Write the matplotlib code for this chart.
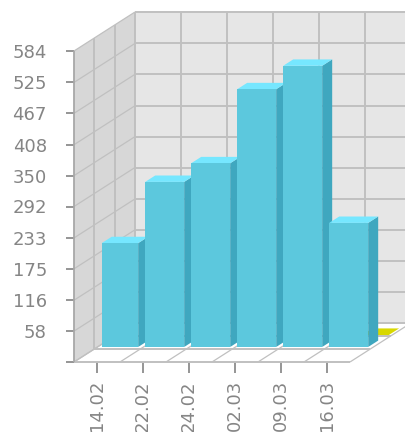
import matplotlib
matplotlib.use("Agg")
import matplotlib.pyplot as plt
from matplotlib.patches import Polygon
from matplotlib.ticker import FixedLocator

plt.rcParams['font.family'] = ['DejaVu Sans']

dates = ['14.02', '22.02', '24.02', '02.03', '09.03', '16.03']
visits = [195, 310, 345, 484, 528, 233]
y_ticks = [58, 116, 175, 233, 292, 350, 408, 467, 525, 584]
y_max = 584
# second row of the chart, sits behind the blue bars
yellow_val = 3

WIDTH, HEIGHT = 405, 432
# front plane of the box in pixels
LEFT, RIGHT, BOTTOM, TOP = 74, 350, 362, 51
# how far the back wall is pushed, in pixels
DEPTH_X, DEPTH_Y = 61, 39

GRID = '#c0c0c0'
TEXT = '#858585'

fig = plt.figure(figsize=(WIDTH / 100, HEIGHT / 100), dpi=100, facecolor='white')
ax = fig.add_axes([LEFT / WIDTH, 1 - BOTTOM / HEIGHT,
                   (RIGHT - LEFT) / WIDTH, (BOTTOM - TOP) / HEIGHT])
ax.set_xlim(0, len(dates))
ax.set_ylim(0, y_max)
ax.patch.set_visible(False)

px_x = len(dates) / (RIGHT - LEFT)
px_y = y_max / (BOTTOM - TOP)


def shift(x, y, depth):
    # depth goes 0 (front edge) to 1 (back wall)
    return x + depth * DEPTH_X * px_x, y + depth * DEPTH_Y * px_y


def poly(points, color, z):
    ax.add_patch(Polygon(points, closed=True, facecolor=color, edgecolor='none',
                         linewidth=0, zorder=z, clip_on=False))


def line(p1, p2, z=2, color=GRID, lw=1.4):
    ax.plot([p1[0], p2[0]], [p1[1], p2[1]], color=color, lw=lw, zorder=z,
            clip_on=False, solid_capstyle='butt')


n = len(dates)

# walls and floor
poly([shift(0, 0, 1), shift(n, 0, 1), shift(n, y_max, 1), shift(0, y_max, 1)], '#e6e6e6', 1)
poly([shift(0, 0, 0), shift(0, 0, 1), shift(0, y_max, 1), shift(0, y_max, 0)], '#d7d7d7', 1)
poly([shift(0, 0, 0), shift(n, 0, 0), shift(n, 0, 1), shift(0, 0, 1)], '#ffffff', 1)

for v in [0] + y_ticks:
    line(shift(0, v, 0), shift(0, v, 1), lw=0.9)
    line(shift(0, v, 1), shift(n, v, 1))
for i in range(n + 1):
    line(shift(i, 0, 1), shift(i, y_max, 1))
    line(shift(i, 0, 0), shift(i, 0, 1), lw=0.9)
for d in [1 / 3, 2 / 3]:
    line(shift(0, 0, d), shift(0, y_max, d))
    line(shift(0, 0, d), shift(n, 0, d))
line(shift(0, 0, 0), shift(n, 0, 0))

# the yellow row, almost flat on the floor
poly([shift(5.4, yellow_val, 0.65), shift(5.98, yellow_val, 0.65),
      shift(5.98, yellow_val, 0.82), shift(5.4, yellow_val, 0.82)], '#d8d800', 3)

# bars, drawn left to right so each one covers the side of the one before
BAR_W = 39 * px_x
BAR_DEPTH = 10 / DEPTH_X
BAR_FRONT = 0.385
BAR_SHIFT = 1.8 * px_x
WALL_GAP = 4.2 * px_x
for i, v in enumerate(visits):
    x0 = i + 0.5 - BAR_W / 2 - BAR_SHIFT
    x1 = x0 + BAR_W
    x0 = max(x0, WALL_GAP)
    z = 4 + i
    poly([shift(x0, 0, BAR_FRONT), shift(x1, 0, BAR_FRONT),
          shift(x1, v, BAR_FRONT), shift(x0, v, BAR_FRONT)], '#5cc8dd', z + 0.2)
    poly([shift(x1, 0, BAR_FRONT), shift(x1, 0, BAR_FRONT + BAR_DEPTH),
          shift(x1, v, BAR_FRONT + BAR_DEPTH), shift(x1, v, BAR_FRONT)], '#3fa7bf', z)
    poly([shift(x0, v, BAR_FRONT), shift(x1, v, BAR_FRONT),
          shift(x1, v, BAR_FRONT + BAR_DEPTH), shift(x0, v, BAR_FRONT + BAR_DEPTH)], '#76e7ff', z + 0.1)

ax.set_xticks([i + 0.5 for i in range(n)])
ax.set_xticklabels(dates, rotation=90, color=TEXT, fontsize=13)
ax.yaxis.set_major_locator(FixedLocator([0] + y_ticks))
ax.set_yticklabels([''] + [str(t) for t in y_ticks], color=TEXT, fontsize=13)
ax.tick_params(axis='x', length=8, width=1.3, color='#8c8c8c', pad=5)
ax.tick_params(axis='y', length=5.5, width=1.3, color='#8c8c8c', pad=14)
for name, sp in ax.spines.items():
    sp.set_visible(False)
line((0, 0), (0, y_max), z=20, color='#a8a8a8', lw=1.3)

fig.savefig('out.png', dpi=100)
